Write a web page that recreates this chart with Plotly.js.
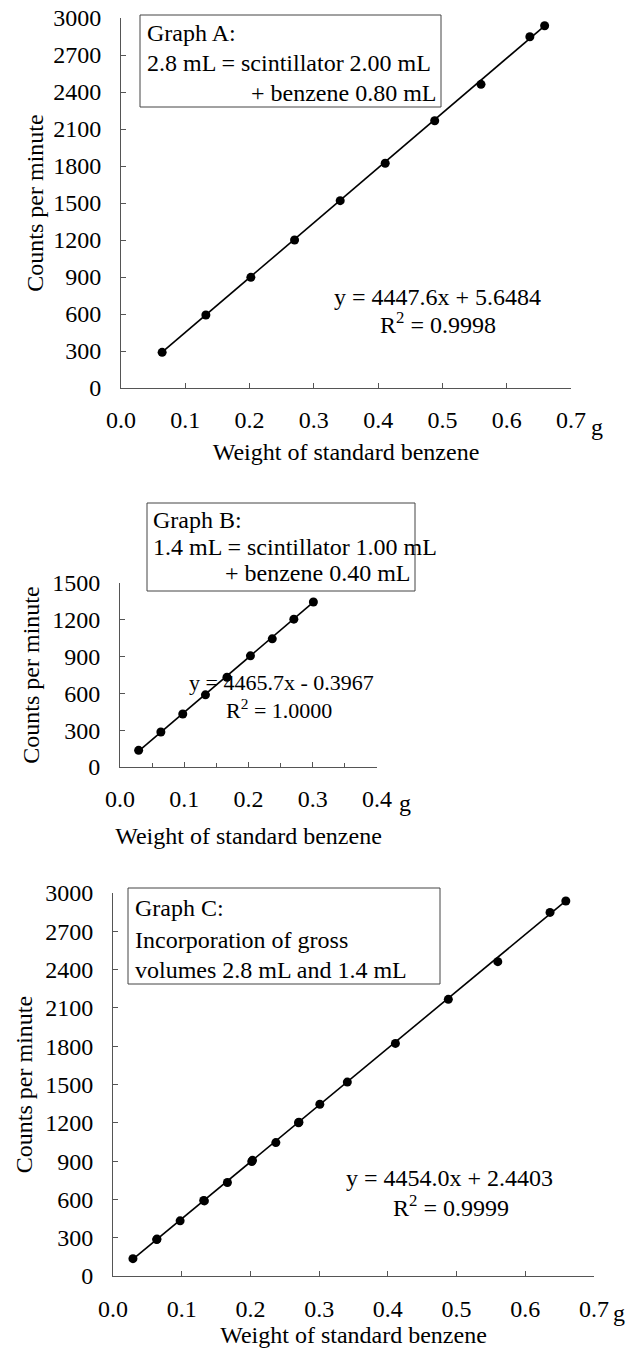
<!DOCTYPE html>
<html>
<head>
<meta charset="utf-8">
<script src="https://cdn.plot.ly/plotly-3.0.1.min.js"></script>
<style>
  html, body { margin: 0; padding: 0; background: #fff; }
  #chart { width: 630px; height: 1352px; }
</style>
</head>
<body>
<div id="chart"></div>
<script>
// ---------- data ----------
const weightA = [0.064, 0.132, 0.202, 0.270, 0.341, 0.411, 0.488, 0.560, 0.636, 0.659];
const cpmA    = [289, 592, 897, 1200, 1519, 1822, 2167, 2462, 2848, 2937];

const weightB = [0.029, 0.0636, 0.0977, 0.133, 0.1665, 0.203, 0.237, 0.2706, 0.301];
const cpmB    = [136, 285, 432, 588, 732, 906, 1045, 1205, 1345];

const weightC = weightA.concat(weightB);
const cpmC    = cpmA.concat(cpmB);

const fitA = {slope: 4447.6, intercept: 5.6484, eq: "y = 4447.6x + 5.6484", r2: "0.9998"};
const fitB = {slope: 4465.7, intercept: -0.3967, eq: "y = 4465.7x - 0.3967", r2: "1.0000"};
const fitC = {slope: 4454.0, intercept: 2.4403, eq: "y = 4454.0x + 2.4403", r2: "0.9999"};

const boxTextA = ["Graph A:", "2.8 mL = scintillator 2.00 mL", "+ benzene 0.80 mL"];
const boxTextB = ["Graph B:", "1.4 mL = scintillator 1.00 mL", "+ benzene 0.40 mL"];
const boxTextC = ["Graph C:", "Incorporation of gross", "volumes 2.8 mL and 1.4 mL"];

const xTitle = "Weight of standard benzene";
const yTitle = "Counts per minute";
const unitLabel = "g";

// ---------- helpers ----------
const W = 630, H = 1352;
const px = v => v / W;
const py = v => 1 - v / H;
const FONT = "Liberation Serif";
const fs = 24;
const axisColor = "#555";

function fitLine(xs, fit, xaxis, yaxis) {
  const x0 = Math.min(...xs), x1 = Math.max(...xs);
  return {
    x: [x0, x1], y: [fit.slope * x0 + fit.intercept, fit.slope * x1 + fit.intercept],
    mode: "lines", line: {color: "#000", width: 1.6}, xaxis: xaxis, yaxis: yaxis,
    showlegend: false, hoverinfo: "skip"
  };
}
function pts(xs, ys, xaxis, yaxis) {
  return {
    x: xs, y: ys, mode: "markers", marker: {color: "#000", size: 9},
    xaxis: xaxis, yaxis: yaxis, showlegend: false
  };
}

const traces = [
  fitLine(weightA, fitA, "x", "y"), pts(weightA, cpmA, "x", "y"),
  fitLine(weightB, fitB, "x2", "y2"), pts(weightB, cpmB, "x2", "y2"),
  fitLine(weightC, fitC, "x3", "y3"), pts(weightC, cpmC, "x3", "y3")
];

function xAx(domain, range, anchor, standoffTitle, labelStandoff, minor) {
  const a = {
    domain: domain, range: range, anchor: anchor,
    showgrid: false, zeroline: false, showline: true, linecolor: axisColor, linewidth: 1,
    ticks: "inside", ticklen: 5, tickcolor: axisColor, tickwidth: 1,
    dtick: 0.1, tick0: 0, tickformat: ".1f",
    tickfont: {family: FONT, size: fs, color: "#000"},
    ticklabelstandoff: labelStandoff,
    title: {text: xTitle, font: {family: FONT, size: fs, color: "#000"}, standoff: standoffTitle},
    fixedrange: true
  };
  if (minor) a.minor = {dtick: 0.05, ticks: "inside", ticklen: 4, tickcolor: axisColor};
  return a;
}
function yAx(domain, range, anchor, standoffTitle) {
  return {
    domain: domain, range: range, anchor: anchor,
    showgrid: false, zeroline: false, showline: true, linecolor: axisColor, linewidth: 1,
    ticks: "inside", ticklen: 5, tickcolor: axisColor, tickwidth: 1,
    dtick: 300, tick0: 0,
    tickfont: {family: FONT, size: fs, color: "#000"},
    ticklabelstandoff: 14,
    title: {text: yTitle, font: {family: FONT, size: fs, color: "#000"}, standoff: standoffTitle},
    fixedrange: true
  };
}

// plot areas in pixels
const A = {l: 121, r: 571, t: 18, b: 388};
const B = {l: 120, r: 377, t: 583, b: 767};
const C = {l: 113, r: 594, t: 893, b: 1276};

const layout = {
  width: W, height: H,
  margin: {l: 0, r: 0, t: 0, b: 0},
  paper_bgcolor: "#fff", plot_bgcolor: "rgba(0,0,0,0)",
  showlegend: false,
  font: {family: FONT, size: fs, color: "#000"},
  xaxis:  xAx([px(A.l), px(A.r)], [0, 0.7], "y", 11, 10, false),
  yaxis:  yAx([py(A.b), py(A.t)], [0, 3000], "x", 2),
  xaxis2: xAx([px(B.l), px(B.r)], [0, 0.4], "y2", 16, 10, true),
  yaxis2: yAx([py(B.b), py(B.t)], [0, 1500], "x2", 5),
  xaxis3: xAx([px(C.l), px(C.r)], [0, 0.7], "y3", 0, 11, false),
  yaxis3: yAx([py(C.b), py(C.t)], [0, 3000], "x3", 5),
  shapes: [
    {type: "rect", xref: "paper", yref: "paper", x0: px(140), x1: px(441), y0: py(107), y1: py(15),
     line: {color: "#444", width: 1}, fillcolor: "#fff", layer: "below"},
    {type: "rect", xref: "paper", yref: "paper", x0: px(147), x1: px(415), y0: py(591), y1: py(503),
     line: {color: "#444", width: 1}, fillcolor: "#fff", layer: "below"},
    {type: "rect", xref: "paper", yref: "paper", x0: px(128), x1: px(440), y0: py(984), y1: py(888),
     line: {color: "#444", width: 1}, fillcolor: "#fff", layer: "below"}
  ],
  annotations: []
};

function addText(text, x, y, xanchor, size) {
  layout.annotations.push({
    xref: "paper", yref: "paper", x: px(x), y: py(y), xanchor: xanchor, yanchor: "middle",
    text: text, showarrow: false, font: {family: FONT, size: size || fs, color: "#000"}
  });
}
// box texts
addText(boxTextA[0], 145, 33, "left");
addText(boxTextA[1], 145, 63, "left");
addText(boxTextA[2], 438, 93, "right");
addText(boxTextB[0], 151, 520, "left");
addText(boxTextB[1], 151, 547, "left");
addText(boxTextB[2], 412, 573, "right");
addText(boxTextC[0], 133, 908, "left");
addText(boxTextC[1], 133, 940, "left");
addText(boxTextC[2], 133, 970, "left");
// equations
addText(fitA.eq, 437, 297, "center");
addText("R<sup>2</sup> = " + fitA.r2, 438, 323, "center");
addText(fitB.eq, 281, 682, "center", 22);
addText("R<sup>2</sup> = " + fitB.r2, 279, 709, "center", 22);
addText(fitC.eq, 449, 1178, "center");
addText("R<sup>2</sup> = " + fitC.r2, 451, 1206, "center");
// unit labels
addText(unitLabel, 589, 427, "left");
addText(unitLabel, 397, 803, "left");
addText(unitLabel, 611, 1313, "left");

Plotly.newPlot("chart", traces, layout, {staticPlot: true, displayModeBar: false});
</script>
</body>
</html>
